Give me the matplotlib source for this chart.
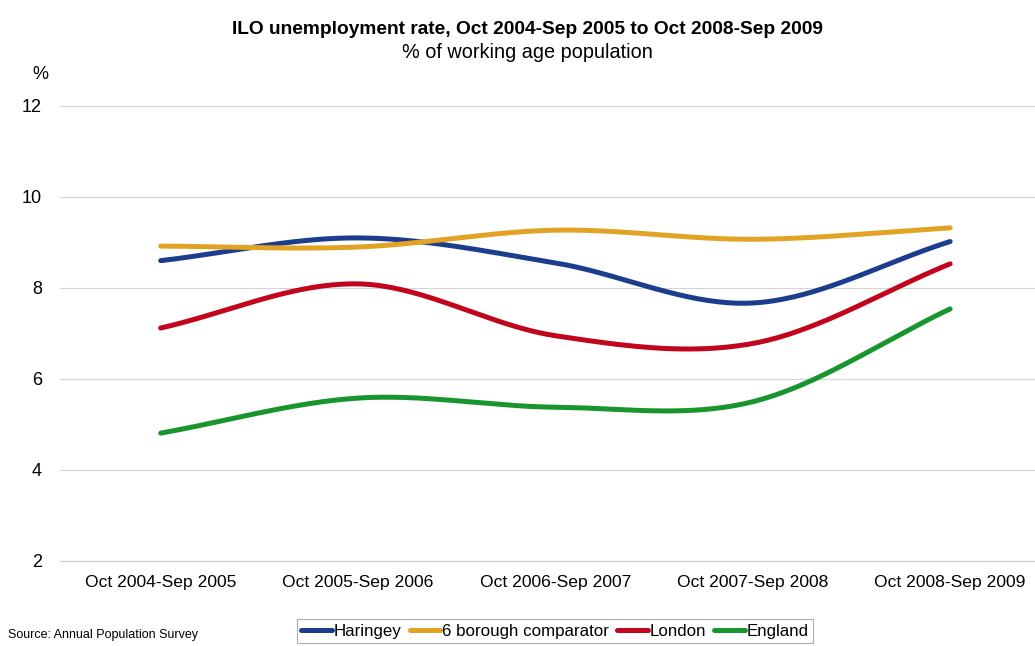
import numpy as np
import matplotlib.pyplot as plt

periods = ['Oct 2004-Sep 2005', 'Oct 2005-Sep 2006', 'Oct 2006-Sep 2007',
           'Oct 2007-Sep 2008', 'Oct 2008-Sep 2009']
haringey = [8.6, 9.1, 8.55, 7.67, 9.02]
comparator = [8.92, 8.9, 9.27, 9.07, 9.32]
london = [7.12, 8.09, 6.95, 6.78, 8.53]
england = [4.81, 5.58, 5.38, 5.5, 7.54]

names = ['Haringey', '6 borough comparator', 'London', 'England']
colors = ['#1c3c8e', '#e2a324', '#c1051c', '#18952c']


def smooth(y, n=40):
    # catmull-rom style smoothing like the spreadsheet "smoothed line"
    y = np.asarray(y, float)
    p = np.concatenate([[2 * y[0] - y[1]], y, [2 * y[-1] - y[-2]]])
    xs, ys = [], []
    for i in range(len(y) - 1):
        t = np.linspace(0, 1, n, endpoint=(i == len(y) - 2))
        p0, p1, p2, p3 = p[i], p[i + 1], p[i + 2], p[i + 3]
        yy = 0.5 * ((2 * p1) + (-p0 + p2) * t + (2 * p0 - 5 * p1 + 4 * p2 - p3) * t ** 2
                    + (-p0 + 3 * p1 - 3 * p2 + p3) * t ** 3)
        xs.append(i + t)
        ys.append(yy)
    return np.concatenate(xs), np.concatenate(ys)


plt.rcParams['font.family'] = ['Liberation Sans', 'DejaVu Sans']

fig = plt.figure(figsize=(10.35, 6.46), dpi=100)
ax = fig.add_axes([0.058, 0.1316, 0.942, 0.7044])

for vals, name, c in zip([haringey, comparator, london, england], names, colors):
    x, y = smooth(vals)
    ax.plot(x, y, color=c, lw=3.6, label=name, solid_capstyle='round')

ax.set_ylim(2, 12)
ax.set_xlim(-0.51, 4.43)
ax.set_yticks([2, 4, 6, 8, 10, 12])
ax.set_xticks(range(len(periods)))
ax.set_xticklabels(periods, fontsize=12.6)
ax.tick_params(axis='y', labelsize=13, length=0, pad=13)
ax.tick_params(axis='x', length=0, pad=10)
for s in ['top', 'right', 'left']:
    ax.spines[s].set_visible(False)
ax.spines['bottom'].set_color('#c8d0c8')
ax.spines['bottom'].set_linewidth(0.8)
ax.grid(axis='y', color='#d4d4d4', lw=0.8)
ax.set_axisbelow(True)

fig.text(0.51, 0.955, 'ILO unemployment rate, Oct 2004-Sep 2005 to Oct 2008-Sep 2009',
         ha='center', va='center', fontsize=13.8, fontweight='bold')
fig.text(0.51, 0.918, '% of working age population', ha='center', va='center', fontsize=14.3)
fig.text(0.039, 0.884, '%', ha='center', va='center', fontsize=13)
fig.text(0.008, 0.017, 'Source: Annual Population Survey', ha='left', va='center', fontsize=9)

leg = fig.legend(loc='center', bbox_to_anchor=(0.536, 0.023), ncol=4, fontsize=12.2,
                 frameon=True, handlelength=1.8, handletextpad=0.1, columnspacing=0.5,
                 borderpad=0.25, fancybox=False)
leg.get_frame().set_edgecolor('#999999')
leg.get_frame().set_linewidth(0.8)

fig.savefig('out.png', dpi=100)
